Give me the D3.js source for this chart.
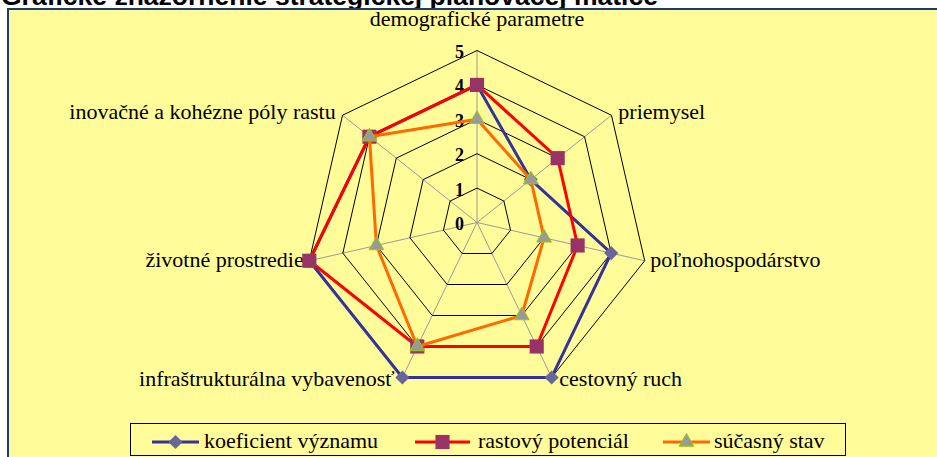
<!DOCTYPE html>
<html>
<head>
<meta charset="utf-8">
<script src="https://cdn.jsdelivr.net/npm/d3@7"></script>
<style>
  body { margin: 0; background: #fff; }
</style>
</head>
<body>
<div id="chart"></div>
<script>
// data
const categories = [
    "demografické parametre",
    "priemysel",
    "poľnohospodárstvo",
    "cestovný ruch",
    "infraštrukturálna vybavenosť",
    "životné prostredie",
    "inovačné a kohézne póly rastu"
];
const koeficientVyznamu = [4, 2, 4, 5, 5, 5, 4];
const rastovyPotencial = [4, 3, 3, 4, 4, 5, 4];
const sucasnyStav = [3, 2, 2, 3, 4, 3, 4];
const radialTicks = [0, 1, 2, 3, 4, 5];
const seriesNames = ["koeficient významu", "rastový potenciál", "súčasný stav"];

const width = 937, height = 457;
const cx = 477, cy = 222.5, R = 172;
const serif = "'Liberation Serif', 'Times New Roman', serif";

const svg = d3.select("#chart")
    .append("svg")
    .attr("width", width)
    .attr("height", height);

// =========================
// TITLE (cut off at the top)
// =========================
svg.append("text")
    .attr("x", 1)
    .attr("y", 5)
    .style("font-family", "'Liberation Sans', Arial, sans-serif")
    .style("font-weight", "bold")
    .style("font-size", "26.5px")
    .text("Grafické znázornenie strategickej plánovacej matice");

// chart area
svg.append("rect")
    .attr("x", 8)
    .attr("y", 9)
    .attr("width", width)
    .attr("height", height)
    .attr("fill", "#FFFC99")
    .attr("stroke", "#1d3b6b")
    .attr("stroke-width", 2);

const r = d3.scaleLinear().domain([0, 5]).range([0, R]);
const angle = i => i * 2 * Math.PI / categories.length;
const px = (v, i) => r(v) * Math.sin(angle(i));
const py = (v, i) => -r(v) * Math.cos(angle(i));

const g = svg.append("g").attr("transform", `translate(${cx},${cy})`);

const radial = d3.lineRadial()
    .angle((d, i) => angle(i))
    .radius(d => r(d))
    .curve(d3.curveLinearClosed);

// =========================
// GRID
// =========================
categories.forEach((c, i) => {
    g.append("line")
        .attr("x1", 0).attr("y1", 0)
        .attr("x2", px(5, i)).attr("y2", py(5, i))
        .attr("stroke", "#9a9a9a")
        .attr("stroke-width", 1);
});

radialTicks.filter(t => t > 0).forEach(t => {
    g.append("path")
        .datum(categories.map(() => t))
        .attr("d", radial)
        .attr("fill", "none")
        .attr("stroke", "#000")
        .attr("stroke-width", 1);
});

// tick labels
g.selectAll(".tick")
    .data(radialTicks)
    .enter()
    .append("text")
    .attr("x", -13)
    .attr("y", d => -r(d) + 7.5)
    .attr("text-anchor", "end")
    .style("font-family", serif)
    .style("font-weight", "bold")
    .style("font-size", "18px")
    .text(d => d);

// category labels
categories.forEach((c, i) => {
    const a = angle(i);
    const s = Math.sin(a), co = Math.cos(a);
    let x = px(5, i), y = py(5, i), anchor;
    if (Math.abs(s) < 0.1) {
        anchor = "middle";
        y -= 24.5;
    } else {
        anchor = s > 0 ? "start" : "end";
        x += (s > 0 ? 1 : -1) * (5 + 3 * Math.abs(co));
        y += 6 - 3 * co;
    }
    g.append("text")
        .attr("x", x)
        .attr("y", y)
        .attr("text-anchor", anchor)
        .style("font-family", serif)
        .style("font-size", "22px")
        .text(c);
});

// =========================
// SERIES
// =========================
const series = [
    { name: seriesNames[0], values: koeficientVyznamu, line: "#333399", width: 3,
      symbol: d3.symbolSquare, size: 100, rotate: 45, fill: "#666699", stroke: "none" },
    { name: seriesNames[1], values: rastovyPotencial, line: "#ff0000", width: 3,
      symbol: d3.symbolSquare, size: 200, rotate: 0, fill: "#993366", stroke: "none" },
    { name: seriesNames[2], values: sucasnyStav, line: "#ff6a00", width: 3,
      symbol: d3.symbolTriangle, size: 95, rotate: 0, fill: "#999999", stroke: "#99cc00" }
];

series.forEach(sr => {
    g.append("path")
        .datum(sr.values)
        .attr("d", radial)
        .attr("fill", "none")
        .attr("stroke", sr.line)
        .attr("stroke-width", sr.width)
        .attr("stroke-linejoin", "round");

    g.selectAll(null)
        .data(sr.values)
        .enter()
        .append("path")
        .attr("d", d3.symbol().type(sr.symbol).size(sr.size))
        .attr("transform", (d, i) => `translate(${px(d, i)},${py(d, i)}) rotate(${sr.rotate})`)
        .attr("fill", sr.fill)
        .attr("stroke", sr.stroke)
        .attr("stroke-width", 1);
});

// =========================
// LEGEND
// =========================
svg.append("rect")
    .attr("x", 130.5)
    .attr("y", 423.5)
    .attr("width", 715)
    .attr("height", 32)
    .attr("fill", "none")
    .attr("stroke", "#000")
    .attr("stroke-width", 1);

const legendX = [152, 415, 663];
const legendText = [204, 478, 714];
const legendLine = [47, 55, 47];

series.forEach((sr, i) => {
    const item = svg.append("g").attr("transform", `translate(${legendX[i]}, 442)`);
    item.append("line")
        .attr("x1", 0).attr("x2", legendLine[i])
        .attr("stroke", sr.line)
        .attr("stroke-width", sr.width);
    item.append("path")
        .attr("d", d3.symbol().type(sr.symbol).size(sr.size))
        .attr("transform", `translate(${legendLine[i] / 2},0) rotate(${sr.rotate})`)
        .attr("fill", sr.fill)
        .attr("stroke", sr.stroke);
    svg.append("text")
        .attr("x", legendText[i])
        .attr("y", 448)
        .style("font-family", serif)
        .style("font-size", "22px")
        .text(sr.name);
});
</script>
</body>
</html>
